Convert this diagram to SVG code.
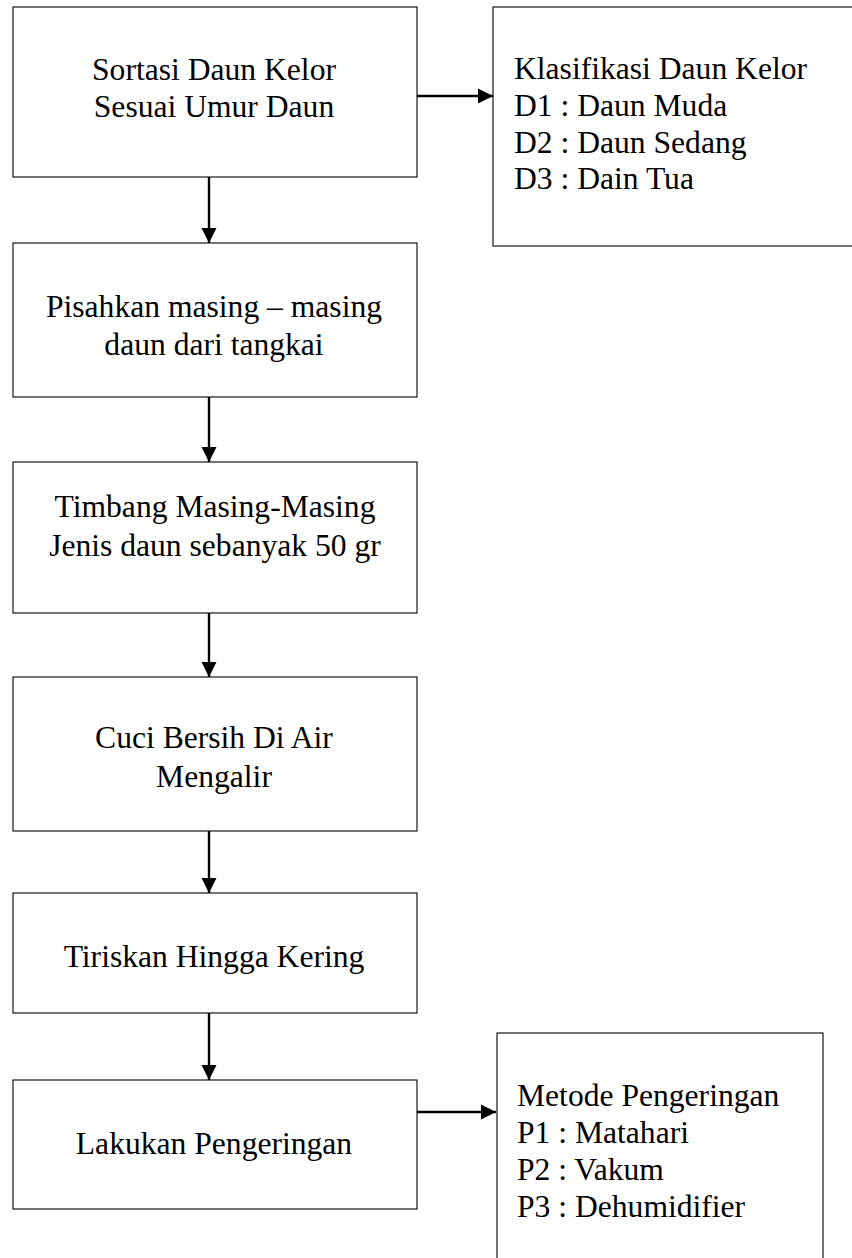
<svg xmlns="http://www.w3.org/2000/svg" width="852" height="1258" viewBox="0 0 852 1258">
<style>
.box{fill:#fff;stroke:#000;stroke-width:1.1}
.t{font-family:"Liberation Serif","Times New Roman",serif;font-size:31.6px;fill:#000}
.c{text-anchor:middle}
.conn{stroke:#000;stroke-width:2.4;fill:none}
</style>
<defs>
<marker id="ah" markerUnits="userSpaceOnUse" markerWidth="16" markerHeight="16" viewBox="0 0 16 16" refX="15" refY="8" orient="auto">
<path d="M0,0.5 L15,8 L0,15.5 Z" fill="#000"/>
</marker>
</defs>
<rect width="852" height="1258" fill="#fff"/>
<g id="n1">
<rect class="box" x="13" y="7" width="404" height="170"/>
<text class="t c" x="214" y="80">Sortasi Daun Kelor</text>
<text class="t c" x="214" y="117">Sesuai Umur Daun</text>
</g>
<g id="nD">
<rect class="box" x="493" y="7" width="370" height="239"/>
<text class="t" x="514" y="79">Klasifikasi Daun Kelor</text>
<text class="t" x="514" y="116">D1 : Daun Muda</text>
<text class="t" x="514" y="153">D2 : Daun Sedang</text>
<text class="t" x="514" y="189">D3 : Dain Tua</text>
</g>
<g id="n2">
<rect class="box" x="13" y="243" width="404" height="154"/>
<text class="t c" x="214" y="317">Pisahkan masing – masing</text>
<text class="t c" x="214" y="355">daun dari tangkai</text>
</g>
<g id="n3">
<rect class="box" x="13" y="462" width="404" height="151"/>
<text class="t c" x="215" y="517">Timbang Masing-Masing</text>
<text class="t c" x="215" y="556">Jenis daun sebanyak 50 gr</text>
</g>
<g id="n4">
<rect class="box" x="13" y="677" width="404" height="154"/>
<text class="t c" x="214" y="748">Cuci Bersih Di Air</text>
<text class="t c" x="214" y="787">Mengalir</text>
</g>
<g id="n5">
<rect class="box" x="13" y="893" width="404" height="120"/>
<text class="t c" x="214" y="967">Tiriskan Hingga Kering</text>
</g>
<g id="n6">
<rect class="box" x="13" y="1080" width="404" height="129"/>
<text class="t c" x="214" y="1154">Lakukan Pengeringan</text>
</g>
<g id="nP">
<rect class="box" x="497" y="1033" width="326" height="240"/>
<text class="t" x="517" y="1106">Metode Pengeringan</text>
<text class="t" x="517" y="1143">P1 : Matahari</text>
<text class="t" x="517" y="1180">P2 : Vakum</text>
<text class="t" x="517" y="1217">P3 : Dehumidifier</text>
</g>
<g id="connectors">
<line class="conn" x1="417" y1="96" x2="493" y2="96" marker-end="url(#ah)"/>
<line class="conn" x1="209" y1="177" x2="209" y2="243" marker-end="url(#ah)"/>
<line class="conn" x1="209" y1="397" x2="209" y2="462" marker-end="url(#ah)"/>
<line class="conn" x1="209" y1="613" x2="209" y2="677" marker-end="url(#ah)"/>
<line class="conn" x1="209" y1="831" x2="209" y2="893" marker-end="url(#ah)"/>
<line class="conn" x1="209" y1="1013" x2="209" y2="1080" marker-end="url(#ah)"/>
<line class="conn" x1="417" y1="1112" x2="496" y2="1112" marker-end="url(#ah)"/>
</g>
</svg>
